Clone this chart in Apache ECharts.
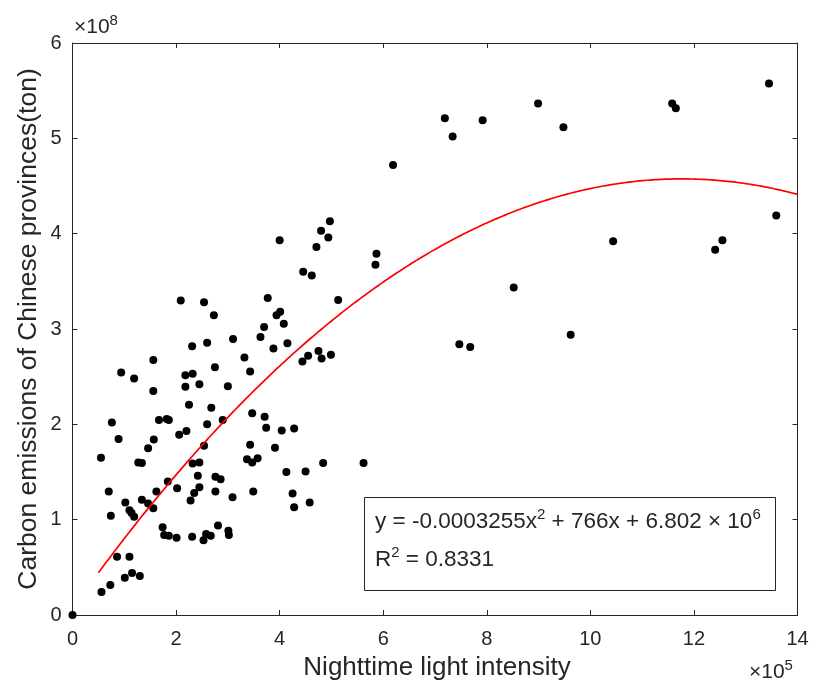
<!DOCTYPE html>
<html>
<head>
<meta charset="utf-8">
<script src="https://cdn.jsdelivr.net/npm/echarts@6/dist/echarts.min.js"></script>
<style>html,body{margin:0;padding:0;background:#fff}#c{width:813px;height:688px}</style>
</head>
<body>
<div id="c"></div>
<script>
// x in units of 1e5 (nighttime light intensity), y in units of 1e8 ton
var xValues = [0,0.55,0.56,0.73,0.70,0.74,0.76,0.89,0.86,1.10,0.94,1.01,1.15,1.30,1.02,1.10,1.14,1.19,1.19,1.27,1.34,1.34,1.46,1.56,1.46,1.57,1.56,1.56,1.62,1.67,1.82,1.86,1.84,1.74,1.77,1.86,2.01,2.02,2.06,2.20,2.09,2.18,2.32,2.18,2.25,2.31,2.45,2.28,2.35,2.45,2.32,2.45,2.42,2.31,2.53,2.58,2.67,2.81,3.01,3.02,2.54,2.73,2.60,2.75,2.68,2.60,2.54,2.90,3.00,3.10,2.76,2.86,2.76,3.09,3.32,3.43,3.63,3.70,3.77,3.88,3.94,4.01,4.08,4.15,3.47,3.71,3.74,4.04,4.28,3.43,3.91,3.37,3.47,3.575,3.49,4.13,4.50,4.25,4.28,4.58,4.44,4.55,4.75,4.81,4.99,4.84,5.62,4.00,4.455,4.62,4.71,4.80,4.94,4.97,5.13,5.85,5.87,6.19,7.19,7.34,7.92,8.99,9.48,11.58,11.65,13.45,13.59,12.55,12.41,10.44,8.52,9.62,7.47,7.68];
var yValues = [0,1.65,0.24,0.315,1.295,1.04,2.02,1.845,0.61,0.61,2.545,0.39,0.44,0.41,1.18,1.10,1.07,1.03,2.48,1.60,1.595,1.21,1.17,1.12,1.75,1.84,2.35,2.675,1.295,2.045,2.055,2.045,1.40,0.92,0.84,0.83,0.81,1.33,1.89,1.93,3.30,2.515,2.53,2.395,2.205,2.82,2.42,1.20,1.28,1.34,1.59,1.60,1.46,0.82,0.785,0.85,0.83,0.94,0.885,0.84,3.28,3.145,2.855,2.60,2.175,2.0,1.775,2.045,2.40,2.895,1.45,1.425,1.295,1.235,2.70,2.555,2.915,3.02,3.325,2.795,3.145,3.18,3.055,2.85,2.115,2.08,1.965,1.935,1.955,1.785,1.755,1.635,1.60,1.645,1.295,1.50,1.505,1.275,1.13,1.18,2.66,2.72,2.77,2.69,2.73,1.595,1.595,3.93,3.60,3.56,3.86,4.03,3.96,4.13,3.305,3.675,3.79,4.72,5.21,5.02,5.19,5.365,5.115,5.365,5.315,5.575,4.19,3.93,3.83,3.92,3.435,2.94,2.84,2.81];
var xTicks = ['0','2','4','6','8','10','12','14'];
var yTicks = ['0','1','2','3','4','5','6'];
var xTitle = 'Nighttime light intensity';
var yTitle = 'Carbon emissions of Chinese provinces(ton)';
// fitted quadratic (from the equation shown in the chart)
var fitCoef = [-0.0003255, 766, 6.802e6];
var fitRange = [0.5, 14];
var eqLine1 = ['y = -0.0003255x', '2', ' + 766x + 6.802 \u00d7 10', '6'];
var eqLine2 = ['R', '2', ' = 0.8331'];
var xExp = '5', yExp = '8';

var scatterData = xValues.map(function(x, i){ return [x, yValues[i]]; });
var fitData = [];
for (var k = 0; k <= 270; k++) {
  var xv = fitRange[0] + (fitRange[1] - fitRange[0]) * k / 270;
  var raw = xv * 1e5;
  fitData.push([xv, (fitCoef[0]*raw*raw + fitCoef[1]*raw + fitCoef[2]) / 1e8]);
}

var FONT = '"Liberation Sans", Arial, Helvetica, sans-serif';
var TXT = '#262626';
var AX = '#262626';
var chart = echarts.init(document.getElementById('c'), null, {renderer: 'canvas'});
var axisCommon = {
  type: 'value',
  axisLine: {show: true, onZero: false, lineStyle: {color: AX, width: 1}},
  axisTick: {show: true, inside: true, length: 5, lineStyle: {color: AX, width: 1}},
  splitLine: {show: false}
};
function sup(s, fs, sfs) {
  return {
    text: '{a|\u00d710}{s|' + s + '}',
    rich: {
      a: {fontSize: fs, fontFamily: FONT, fill: TXT},
      s: {fontSize: sfs, fontFamily: FONT, fill: TXT, padding: [0,0,14,0]}
    }
  };
}
chart.setOption({
  animation: false,
  grid: {left: 72.5, right: 15.5, top: 43, bottom: 73, containLabel: false},
  xAxis: [
    Object.assign({}, axisCommon, {
      min: 0, max: 14, interval: 2, position: 'bottom',
      axisLabel: {fontSize: 20, color: TXT, fontFamily: FONT, margin: 14,
        formatter: function(v){ return xTicks[Math.round(v/2)]; }}
    }),
    Object.assign({}, axisCommon, {
      min: 0, max: 14, interval: 2, position: 'top', axisLabel: {show: false}
    })
  ],
  yAxis: [
    Object.assign({}, axisCommon, {
      min: 0, max: 6, interval: 1, position: 'left',
      axisLabel: {fontSize: 20, color: TXT, fontFamily: FONT, margin: 11,
        formatter: function(v){ return yTicks[Math.round(v)]; }}
    }),
    Object.assign({}, axisCommon, {
      min: 0, max: 6, interval: 1, position: 'right', axisLabel: {show: false}
    })
  ],
  series: [
    {type: 'scatter', data: scatterData, symbol: 'circle', symbolSize: 8,
     itemStyle: {color: '#000', opacity: 1}, z: 3},
    {type: 'line', data: fitData, showSymbol: false, smooth: false,
     lineStyle: {color: '#ff0000', width: 1.7}, z: 4}
  ],
  graphic: [
    {type: 'text', x: 437, y: 668, style: {text: xTitle, fontSize: 26, fontFamily: FONT,
      fill: TXT, textAlign: 'center', textVerticalAlign: 'middle'}},
    {type: 'text', x: 29, y: 329, rotation: Math.PI / 2, style: {text: yTitle, fontSize: 26.5,
      fontFamily: FONT, fill: TXT, textAlign: 'center', textVerticalAlign: 'middle'}},
    {type: 'text', left: 74, top: 13, style: sup(yExp, 21, 15)},
    {type: 'text', left: 749, top: 658, style: sup(xExp, 21, 15)},
    {type: 'rect', shape: {x: 364.5, y: 497.5, width: 411, height: 93},
     style: {fill: '#fff', stroke: '#262626', lineWidth: 1}, z: 10},
    {type: 'text', left: 375, top: 507, z: 11, style: {
      text: '{a|' + eqLine1[0] + '}{s|' + eqLine1[1] + '}{a|' + eqLine1[2] + '}{s|' + eqLine1[3] + '}',
      rich: {
        a: {fontSize: 22.5, fontFamily: FONT, fill: TXT},
        s: {fontSize: 15, fontFamily: FONT, fill: TXT, padding: [0,0,14,0]}
      }}},
    {type: 'text', left: 375, top: 545, z: 11, style: {
      text: '{a|' + eqLine2[0] + '}{s|' + eqLine2[1] + '}{a|' + eqLine2[2] + '}',
      rich: {
        a: {fontSize: 22.5, fontFamily: FONT, fill: TXT},
        s: {fontSize: 15, fontFamily: FONT, fill: TXT, padding: [0,0,14,0]}
      }}}
  ]
});
</script>
</body>
</html>
